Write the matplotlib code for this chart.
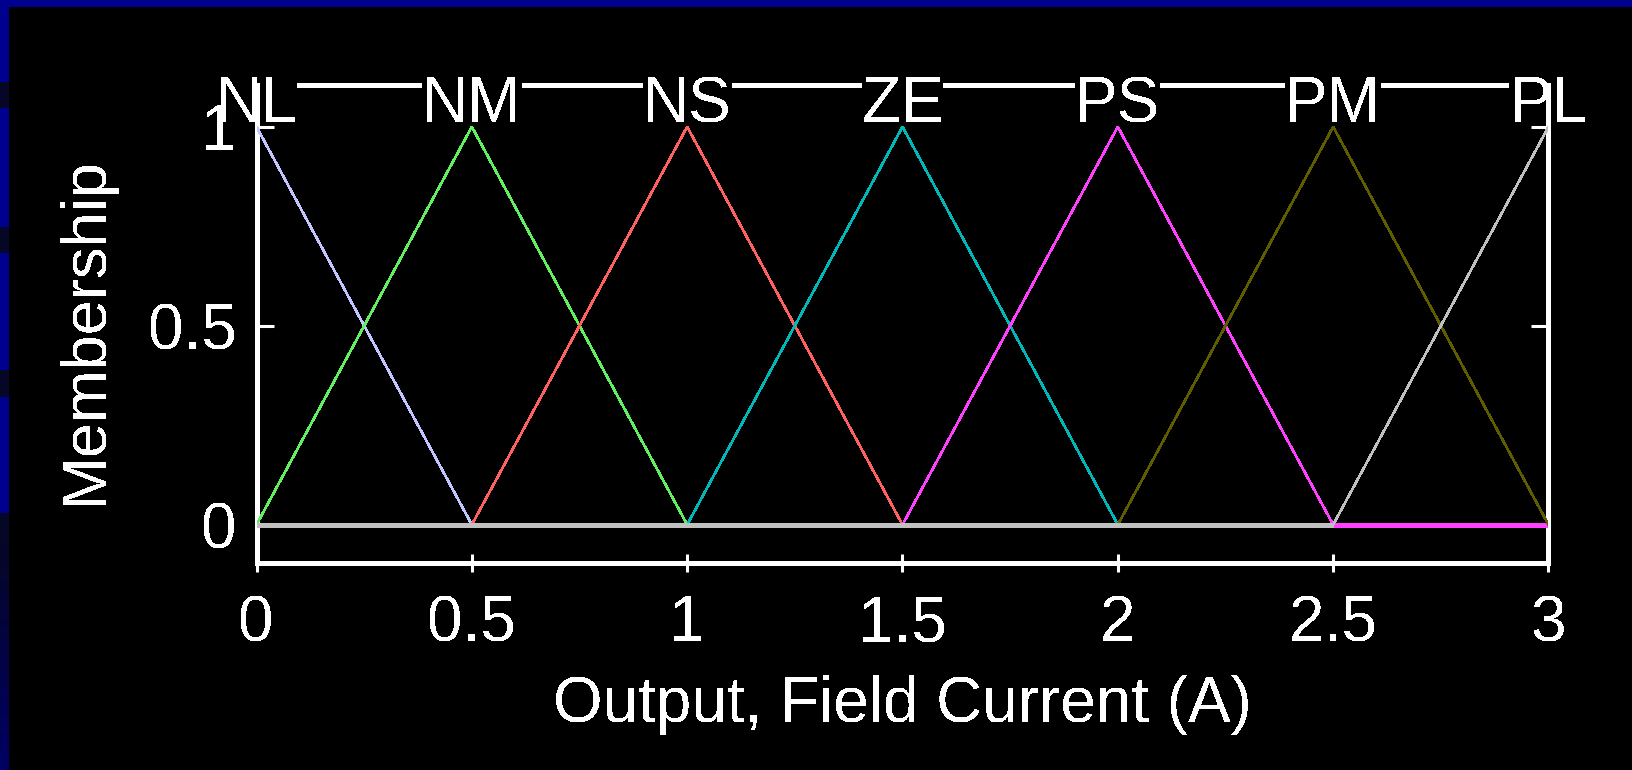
import numpy as np
import matplotlib
matplotlib.use("Agg")
import matplotlib.pyplot as plt

plt.rcParams["font.family"] = ["Liberation Sans", "DejaVu Sans"]
plt.rcParams["text.antialiased"] = False

# Output membership functions (triangular: left foot, peak, right foot)
mf_names = ["NL", "NM", "NS", "ZE", "PS", "PM", "PL"]
mf_params = [
    [-0.5, 0.0, 0.5],
    [0.0, 0.5, 1.0],
    [0.5, 1.0, 1.5],
    [1.0, 1.5, 2.0],
    [1.5, 2.0, 2.5],
    [2.0, 2.5, 3.0],
    [2.5, 3.0, 3.5],
]
mf_colors = ["#c4c4ff", "#60f060", "#ff6060", "#00b8b8", "#ff40ff", "#605c00", "#c0c0c0"]

x_range = [0.0, 3.0]
x_ticks = [0, 0.5, 1, 1.5, 2, 2.5, 3]
x_ticklabels = ["0", "0.5", "1", "1.5", "2", "2.5", "3"]
y_ticks = [0, 0.5, 1]
y_ticklabels = ["0", "0.5", "1"]

W, H = 1633, 770
fig = plt.figure(figsize=(W / 100, H / 100), dpi=100, facecolor="black")

# slide decoration: blue band on top and segmented strip on the left
blue = np.array([0, 0, 142]) / 255
dark = np.array([6, 6, 38]) / 255
strip = np.zeros((H, 9, 3))
segments = [(0, 82, "b"), (82, 108, "d"), (108, 227, "b"), (227, 253, "d"),
            (253, 370, "b"), (370, 397, "d"), (397, 513, "b"), (513, 543, "d")]
for r0, r1, kind in segments:
    strip[r0:r1] = blue if kind == "b" else dark
rows = np.arange(543, H)
t = (rows - 543) / (H - 543)
bottom_col = np.array([0, 0, 100]) / 255
strip[543:] = (dark[None, :] * (1 - t[:, None]) + bottom_col[None, :] * t[:, None])[:, None, :]
fig.figimage(strip, xo=0, yo=0, origin="upper")
band = np.tile(blue, (7, W, 1))
fig.figimage(band, xo=0, yo=H - 7, origin="upper")

ax = fig.add_axes([256.5 / W, (H - 562.5) / H, 1292 / W, 477.5 / H])
ax.set_facecolor("black")

for name, (a, b, c), col in zip(mf_names, mf_params, mf_colors):
    lo, hi = x_range
    xs = np.array(sorted({lo, hi, *[v for v in (a, b, c) if lo <= v <= hi]}))
    ys = np.interp(xs, [a, b, c], [0.0, 1.0, 0.0], left=0.0, right=0.0)
    ax.plot(xs, ys, color=col, lw=1.15, zorder=5, antialiased=False, solid_joinstyle="miter")
    zero_part = np.ma.masked_where(ys != 0, ys)
    ax.plot(xs, zero_part, color=col, lw=2.5, zorder=5, antialiased=False, solid_capstyle="butt")
    ax.annotate(name, xy=(b, 1.0), xytext=(0, 3.4), textcoords="offset points",
                ha="center", va="baseline", fontsize=46, color="white",
                bbox=dict(facecolor="black", edgecolor="none", pad=0),
                zorder=4, annotation_clip=False)

ax.set_xlim(x_range)
ax.set_ylim(-0.095, 1.105)
ax.set_xticks(x_ticks)
ax.set_xticklabels(x_ticklabels)
ax.set_yticks(y_ticks)
ax.set_yticklabels(y_ticklabels)

ax.tick_params(axis="y", direction="in", length=12.2, width=2.2, left=True, right=True,
               pad=14, labelsize=46, colors="white")
ax.tick_params(axis="x", direction="inout", length=13, width=2.2, top=True, bottom=True,
               pad=16.5, labelsize=46, colors="white")

for side, sp in ax.spines.items():
    sp.set_color("white")
    sp.set_linewidth(2.2)
    sp.set_antialiased(False)
ax.spines["left"].set_zorder(4.5)
ax.spines["right"].set_zorder(4.5)
ax.spines["top"].set_zorder(2.5)
ax.spines["bottom"].set_zorder(2.5)
ax.yaxis.set_zorder(4.5)
ax.xaxis.set_zorder(2.5)

ax.set_xlabel("Output, Field Current (A)", fontsize=46, color="white")
ax.xaxis.label.set_va("baseline")
ax.xaxis.set_label_coords(0.5, (562.5 - 722) / 477.5)

ax.set_ylabel("Membership", fontsize=45.5, color="white")
ax.yaxis.label.set_rotation_mode("default")
ax.yaxis.label.set_ha("center")
ax.yaxis.label.set_va("center")
ax.yaxis.set_label_coords((85.5 - 256.5) / 1292, (562.5 - 330) / 477.5)

fig.savefig("out.png", dpi=100, facecolor="black")
